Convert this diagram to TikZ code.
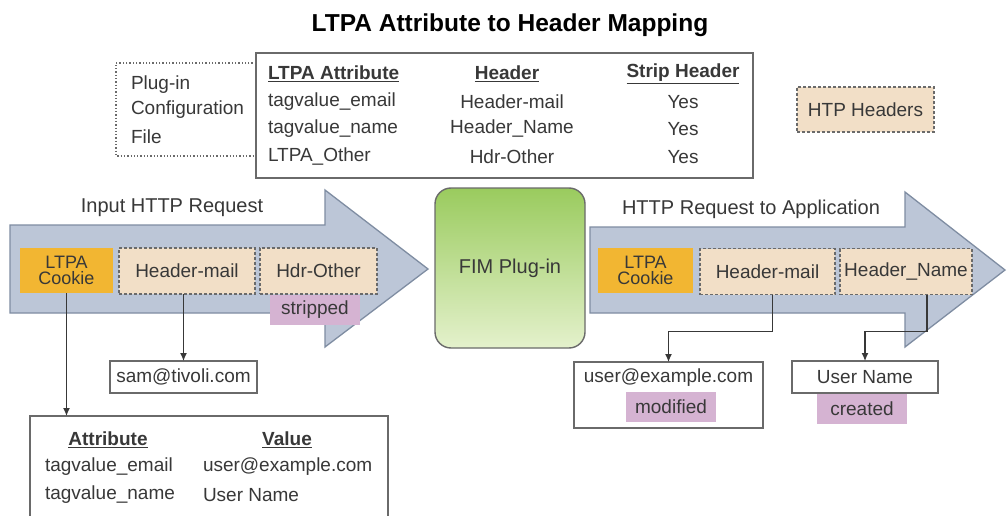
\documentclass[tikz,border=0pt]{standalone}
\usepackage{fontspec}
\setmainfont{Liberation Sans}
\usetikzlibrary{arrows.meta}
\definecolor{txt}{HTML}{383838}
\definecolor{arrowfill}{HTML}{BCC6D7}
\definecolor{arrowline}{HTML}{7F8DA2}
\definecolor{cookie}{HTML}{F2B632}
\definecolor{beige}{HTML}{F2DFC7}
\definecolor{mauve}{HTML}{D5B3D2}
\definecolor{boxline}{HTML}{6A6A6A}
\definecolor{greentop}{HTML}{9ACB5E}
\definecolor{greenbot}{HTML}{E4F1CC}
\tikzset{
  every node/.style={text=txt, font=\fontsize{19}{22}\selectfont, inner sep=0pt, outer sep=0pt},
  bigarrow/.style={fill=arrowfill, draw=arrowline, line width=1.3pt, line join=miter},
  cookiebox/.style={fill=cookie, minimum height=45pt, align=center, font=\fontsize{18}{18}\selectfont},
  hdrbox/.style={fill=beige, draw=boxline, densely dashed, line width=1.2pt, minimum height=46pt},
  tagbox/.style={fill=mauve, minimum height=30pt, minimum width=90pt},
  valbox/.style={draw=boxline, fill=white, line width=1.4pt},
  conn/.style={draw=txt, line width=1.2pt, -{Latex[length=8pt,width=7pt]}},
  hd/.style={font=\fontsize{19}{22}\selectfont\bfseries},
  lbl/.style={font=\fontsize{20}{24}\selectfont}
}
\begin{document}
\begin{tikzpicture}[x=1pt,y=-1pt]
\clip (0,0) rectangle (1007,516);
\fill[white] (0,0) rectangle (1007,516);

% title
\node[font=\fontsize{24.5}{28}\selectfont\bfseries, text=black, anchor=base] (title) at (510,32) {LTPA Attribute to Header Mapping};

% plug-in configuration file (dotted)
\draw[boxline, dotted, line width=1.3pt] (256,63) -- (116,63) -- (116,156) -- (256,156);
\node[anchor=west] (p1) at (131,85) {Plug-in};
\node[anchor=west] (p2) at (131,110) {Configuration};
\node[anchor=west] (p3) at (131,137) {File};

% mapping table
\draw[valbox] (256,53) rectangle (753,178);
\node[hd, anchor=west] (th1) at (268,74) {\underline{LTPA Attribute}};
\node[hd] (th2) at (507,74) {\underline{Header}};
\node[hd] (th3) at (683,74) {\underline{Strip Header}};
\node[anchor=west] (t11) at (268,102) {tagvalue\_email};
\node (t12) at (512,102) {Header-mail};
\node (t13) at (683,102) {Yes};
\node[anchor=west] (t21) at (268,129) {tagvalue\_name};
\node (t22) at (512,129) {Header\_Name};
\node (t23) at (683,129) {Yes};
\node[anchor=west] (t31) at (268,157) {LTPA\_Other};
\node (t32) at (512,157) {Hdr-Other};
\node (t33) at (683,157) {Yes};

% legend
\node[hdrbox, minimum width=137pt, minimum height=45pt] (legend) at (865.5,109.5) {HTP Headers};

% big arrows
\path[bigarrow] (10,225) -- (325,225) -- (325,190) -- (428,269) -- (325,347) -- (325,313) -- (10,313) -- cycle;
\path[bigarrow] (590,227) -- (905,227) -- (905,192) -- (1005,270) -- (905,347) -- (905,313) -- (590,313) -- cycle;
\node[lbl] (inlbl) at (172,208) {Input HTTP Request};
\node[lbl] (outlbl) at (751,209) {HTTP Request to Application};

% FIM plug-in
\node[draw=boxline, line width=1.4pt, rounded corners=16pt, top color=greentop, bottom color=greenbot,
      minimum width=150pt, minimum height=160pt, font=\fontsize{20}{24}\selectfont] (fim) at (510,268) {FIM Plug-in};

% left headers
\node[cookiebox, minimum width=93pt] (lc) at (66.5,270.5) {LTPA\\[-2pt]Cookie};
\node[hdrbox, minimum width=136pt] (lhm) at (187,271) {Header-mail};
\node[hdrbox, minimum width=117pt] (lho) at (318.5,271) {Hdr-Other};
\node[tagbox] (strip) at (315,310) {stripped};

% right headers
\node[cookiebox, minimum width=95pt] (rc) at (645.5,270.5) {LTPA\\[-2pt]Cookie};
\node[hdrbox, minimum width=135pt] (rhm) at (767.5,271.5) {Header-mail};
\node[hdrbox, minimum width=132pt] (rhn) at (906,271.5) {Header\_Name};

% value boxes
\node[valbox, minimum width=147pt, minimum height=32pt] (sam) at (183.5,377) {sam@tivoli.com};
\draw[valbox] (30,416) rectangle (388,540);
\coordinate (attr) at (209,416);
\node[hd] (ah1) at (108,440) {\underline{Attribute}};
\node[hd] (ah2) at (287,440) {\underline{Value}};
\node[anchor=west] (a11) at (45,467) {tagvalue\_email};
\node[anchor=west] (a12) at (203,467) {user@example.com};
\node[anchor=west] (a21) at (45,495) {tagvalue\_name};
\node[anchor=west] (a22) at (203,495) {User Name};

\node[valbox, minimum width=189pt, minimum height=66pt] (ue) at (668.5,395) {};
\node (uetxt) at (668.5,378) {user@example.com};
\node[tagbox] (mod) at (671,407) {modified};
\node[valbox, minimum width=146pt, minimum height=32pt] (un) at (865,377) {User Name};
\node[tagbox] (created) at (862,409) {created};

% connectors
\draw[conn] (lc.south) -- (lc.south |- attr);
\draw[conn] (sam.north |- lhm.south) -- (sam.north);
\draw[conn] ([xshift=5pt]rhm.south) -- ++(0,37) -| (ue.north);
\draw[conn] ([xshift=21pt]rhn.south) -- ++(0,37) -| (un.north);
\end{tikzpicture}
\end{document}
